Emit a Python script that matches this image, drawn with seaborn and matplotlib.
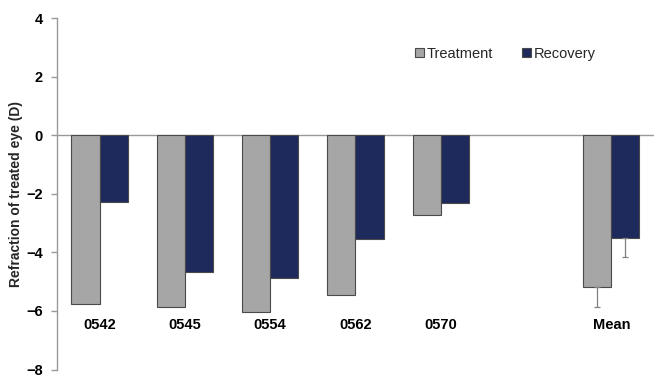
import numpy as np
import pandas as pd
import matplotlib
matplotlib.use("Agg")
import matplotlib.pyplot as plt
import seaborn as sns

# Refraction data (D) per animal and the group mean
categories = ["0542", "0545", "0554", "0562", "0570", "", "Mean"]
treatment = [-5.77, -5.85, -6.04, -5.45, -2.72, np.nan, -5.18]
recovery = [-2.27, -4.67, -4.87, -3.55, -2.30, np.nan, -3.52]
# one-sided (downward) SD for the mean bars
mean_err = {"Treatment": 0.70, "Recovery": 0.62}
series = ["Treatment", "Recovery"]

df = pd.DataFrame({
    "animal": categories * 2,
    "group": ["Treatment"] * len(categories) + ["Recovery"] * len(categories),
    "refraction": treatment + recovery,
})

sns.set_theme(style="white")
plt.rcParams["font.family"] = ["Liberation Sans", "DejaVu Sans"]

fig = plt.figure(figsize=(6.54, 3.79), dpi=100)
ax = fig.add_axes([0.087, 0.025, 0.913, 0.927])

palette = {"Treatment": "#A6A6A6", "Recovery": "#1F2A5C"}
sns.barplot(data=df, x="animal", y="refraction", hue="group", order=categories,
            hue_order=series, palette=palette, width=0.66, errorbar=None,
            edgecolor="#4a4a4a", linewidth=0.8, saturation=1, ax=ax)

# error bars on the mean bars, drawn downward only
for cont, name in zip(ax.containers, series):
    for p in cont.patches:
        cx = p.get_x() + p.get_width() / 2
        if abs(cx - categories.index("Mean")) < 0.5:
            ax.errorbar(cx, p.get_height(), yerr=[[mean_err[name]], [0]],
                        fmt="none", ecolor="#808080", elinewidth=0.9,
                        capsize=2.5, capthick=0.9)

ax.set_ylim(-8, 4)
ax.set_xlim(-0.5, len(categories) - 0.5)
ax.set_yticks(np.arange(-8, 5, 2))
ax.axhline(0, color="#999999", linewidth=1.0, zorder=0.5)

for s in ["top", "right"]:
    ax.spines[s].set_visible(False)
ax.spines["left"].set_color("#999999")
ax.spines["left"].set_linewidth(1.0)
ax.spines["bottom"].set_position(("data", -5.75))
ax.spines["bottom"].set_visible(False)

ax.tick_params(axis="y", left=True, length=4, width=1.0, color="#999999",
               labelsize=10.5, pad=6)
ax.tick_params(axis="x", bottom=False, labelsize=10.5, pad=4)
for lab in ax.get_yticklabels() + ax.get_xticklabels():
    lab.set_fontweight("bold")
    lab.set_color("black")

ax.set_xlabel("")
ax.set_ylabel("Refraction of treated eye (D)", fontsize=10, fontweight="bold",
              labelpad=2)

leg = ax.legend(loc="upper left", bbox_to_anchor=(0.59, 0.935), ncol=2,
                frameon=False, fontsize=10.5, handlelength=0.6, handleheight=0.6,
                handletextpad=0.2, columnspacing=2.0, borderaxespad=0)

fig.savefig("out.png", dpi=100)
